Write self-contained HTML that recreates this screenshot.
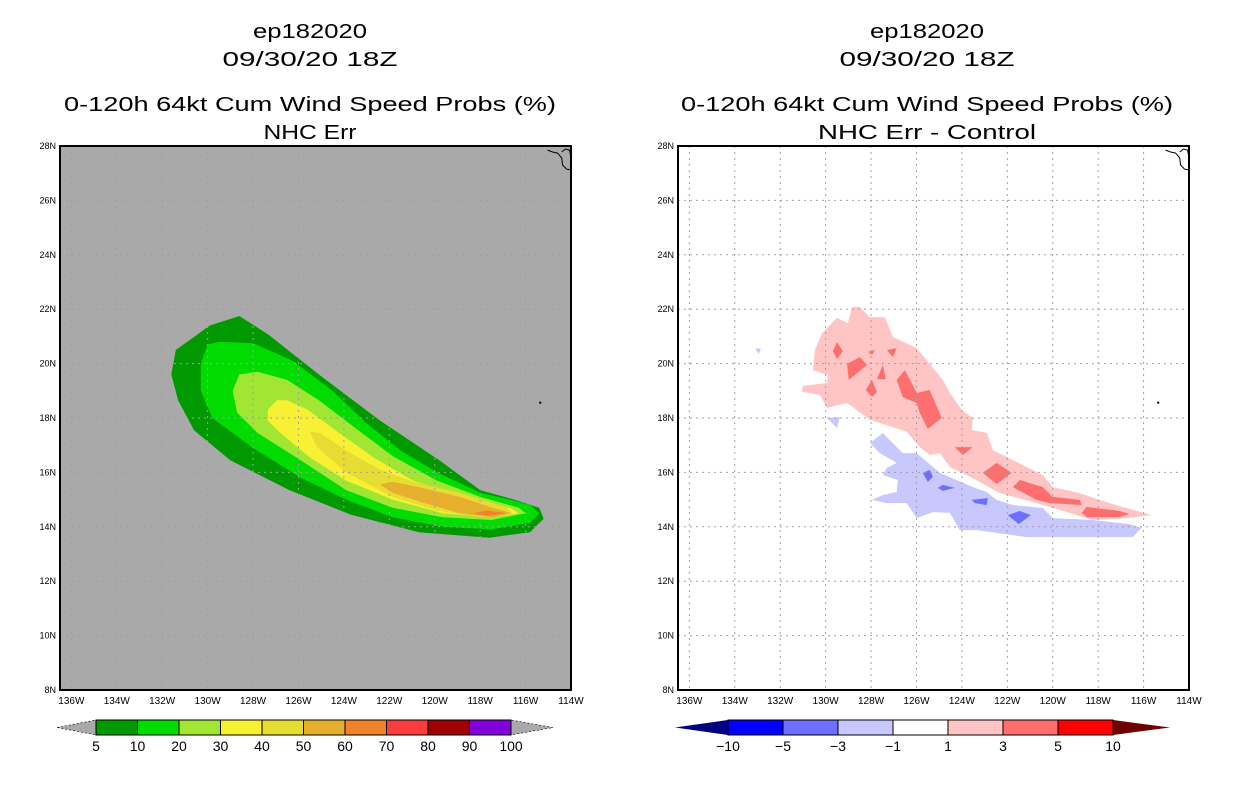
<!DOCTYPE html>
<html><head><meta charset="utf-8"><style>
body{margin:0;background:#fff;width:1236px;height:800px;overflow:hidden;font-family:"Liberation Sans",sans-serif}
svg{position:absolute;left:0;top:0}
</style></head><body>
<svg id="c" width="1236" height="800" xmlns="http://www.w3.org/2000/svg"></svg>
<script>
// ---- data ----
const lonTicks=[136,134,132,130,128,126,124,122,120,118,116,114];
const latTicks=[28,26,24,22,20,18,16,14,12,10,8];
const leftLevels=["5","10","20","30","40","50","60","70","80","90","100"];
const leftColors=["#009a00","#00dc00","#a0e632","#f8f032","#e6dc32","#e6af2d","#f08228","#fa3c3c","#a00000","#8200dc"];
const rightLevels=["-10","-5","-3","-1","1","3","5","10"];
const rightColors=["#0000ff","#6e6eff","#c8c8ff","#ffffff","#ffc5c5","#ff6e6e","#ff0000"];
const p5=[[131.4,20.5],[129.9,21.4],[128.6,21.75],[127.3,21.05],[125.1,19.6],[122.4,17.9],[119.8,16.45],[118.0,15.35],[116.5,15.0],[115.4,14.7],[115.2,14.3],[115.8,13.8],[117.6,13.6],[120.7,13.8],[123.7,14.45],[126.4,15.35],[129.0,16.45],[130.6,17.55],[131.3,18.65],[131.6,19.6]];
const p10=[[130.3,20.0],[130.0,20.7],[129.5,20.8],[128.0,20.75],[126.25,20.1],[124.5,19.0],[123.0,17.8],[121.5,16.8],[119.9,16.0],[118.0,15.25],[116.7,15.0],[115.8,14.8],[115.4,14.5],[115.8,14.15],[117.5,13.9],[119.65,14.0],[121.85,14.35],[123.9,15.0],[125.9,15.8],[128.0,16.9],[129.8,18.0],[130.3,19.0]];
const p20=[[128.9,19.0],[128.6,19.6],[127.8,19.7],[126.5,19.4],[125.1,18.65],[123.6,17.7],[121.85,16.6],[119.9,15.7],[118.0,15.1],[116.3,14.7],[116.0,14.5],[117.5,14.25],[119.65,14.35],[121.85,14.7],[123.9,15.35],[125.9,16.45],[127.8,17.45],[128.7,18.2]];
const p30=[[127.35,18.3],[126.95,18.65],[126.5,18.65],[125.6,18.3],[124.2,17.45],[122.7,16.55],[120.95,15.7],[118.9,15.1],[116.7,14.7],[116.3,14.5],[117.5,14.35],[119.65,14.5],[121.85,15.0],[123.9,15.7],[125.5,16.55],[126.8,17.45],[127.35,17.9]];
const p40=[[125.5,17.5],[125.05,17.45],[123.9,16.8],[122.4,16.1],[120.95,15.65],[118.9,15.25],[116.8,14.7],[116.6,14.5],[118.0,14.35],[119.9,14.6],[121.85,15.1],[123.9,16.0],[125.2,16.95]];
const p50=[[122.4,15.55],[121.85,15.65],[120.65,15.45],[118.9,15.1],[117.45,14.7],[116.6,14.5],[117.45,14.35],[118.9,14.5],[120.35,14.85],[121.85,15.25]];
const p60=[[118.3,14.5],[117.7,14.6],[116.8,14.5],[117.7,14.4]];
const pinkMain=[[130.56,19.76],[130.47,20.5],[130.16,21.12],[129.5,21.68],[129.02,21.49],[128.84,22.08],[128.5,22.08],[128.05,21.71],[127.39,21.71],[127.04,20.98],[125.99,20.57],[124.84,19.4],[124.53,18.92],[124.0,18.29],[123.52,18.0],[123.57,17.56],[122.9,17.45],[122.64,16.82],[122.03,16.57],[120.44,15.9],[120.0,15.46],[118.81,15.24],[117.5,14.87],[115.65,14.43],[116.75,14.32],[118.24,14.25],[119.7,14.62],[120.88,14.91],[122.33,15.24],[123.52,15.79],[124.53,16.2],[124.97,16.71],[125.41,16.64],[125.85,16.93],[126.43,17.49],[127.04,17.67],[128.05,17.93],[129.06,18.55],[129.94,18.37],[130.25,18.85],[131.04,18.96],[131.0,19.18],[129.94,19.29],[129.9,19.58]];
const blueMain=[[128.05,17.08],[127.48,17.45],[126.87,16.93],[126.6,16.71],[125.99,16.71],[124.97,15.98],[123.52,15.46],[122.91,15.28],[122.47,14.99],[121.76,14.8],[120.44,14.69],[120.0,14.32],[118.24,14.25],[116.61,14.1],[116.09,13.96],[116.48,13.62],[118.95,13.62],[121.15,13.62],[123.35,13.88],[124.09,13.88],[124.53,14.51],[125.28,14.54],[125.99,14.32],[126.43,14.87],[127.31,14.87],[127.97,14.99],[127.48,15.17],[126.87,15.28],[126.82,15.72],[127.48,15.9],[127.31,16.16],[126.87,16.35],[127.61,16.71]];
const blueSmall=[[[129.94,18.0],[129.37,18.04],[129.5,17.63]],[[133.1,20.55],[132.85,20.55],[132.95,20.35]]];
const redPatches=[
[[129.68,20.46],[129.5,20.79],[129.24,20.46],[129.5,20.17]],
[[129.06,19.99],[128.49,20.24],[128.18,19.95],[128.98,19.4]],
[[127.74,19.43],[127.48,19.95],[127.35,19.43]],
[[128.23,19.03],[127.96,19.4],[127.74,18.96],[127.96,18.77]],
[[126.87,19.4],[126.51,19.76],[125.99,18.92],[125.42,19.03],[124.89,18.0],[125.5,17.6],[125.85,18.18],[125.99,18.55],[126.6,18.77]],
[[124.31,16.93],[123.52,16.93],[123.96,16.64]],
[[123.08,15.98],[122.47,16.35],[121.81,15.98],[122.47,15.57]],
[[121.76,15.46],[121.45,15.72],[120.44,15.46],[120.0,15.1],[118.81,14.99],[118.73,14.8],[120.13,14.87],[120.71,14.99]],
[[118.73,14.51],[118.5,14.73],[117.05,14.58],[116.61,14.47],[117.05,14.36],[118.5,14.36]],
[[128.14,20.43],[127.83,20.5],[127.96,20.32]],
[[127.3,20.5],[126.87,20.57],[127.04,20.24]]];
const darkBluePatches=[
[[125.72,15.98],[125.41,16.09],[125.28,15.83],[125.5,15.65]],
[[125.06,15.43],[124.84,15.54],[124.31,15.43],[124.84,15.32]],
[[123.57,14.99],[122.86,15.06],[122.91,14.8],[123.43,14.87]],
[[121.98,14.43],[121.45,14.58],[120.97,14.43],[121.5,14.1]]];
const coast1=[[115.03,27.85],[114.81,27.78],[114.59,27.74],[114.41,27.56],[114.37,27.3],[114.2,27.15],[114.02,27.12]];
const coast2=[[114.41,27.78],[114.24,27.89],[114.06,27.85],[114.02,27.67]];
const island=[115.4,18.6];

// ---- drawing ----
const S=document.getElementById('c');const NS='http://www.w3.org/2000/svg';
function mk(t,a,p){const e=document.createElementNS(NS,t);for(const k in a)e.setAttribute(k,a[k]);(p||S).appendChild(e);return e;}
const Y0=146,Y1=690,W=511;
function xs(x0){return lon=>x0+(136.5-lon)*(W/22.5);}
function ys(lat){return Y0+(28-lat)*((Y1-Y0)/20);}
function pts(arr,X){return arr.map(p=>X(p[0]).toFixed(1)+','+ys(p[1]).toFixed(1)).join(' ');}
function text(x,y,s,size,anchor,name,len){const a={x:x,y:y,'font-size':size,'text-anchor':anchor||'middle','font-family':'Liberation Sans, sans-serif',fill:'#000'};if(len){a.textLength=len;a.lengthAdjust='spacingAndGlyphs';}const t=mk('text',a);t.textContent=s;return t;}

function panel(x0,bg,cx,title4,len4,pname){
  const X=xs(x0);
  const g=mk('g',{});
  
  
  text(cx,38,'ep182020',20,'middle','storm-id',114);
  text(cx,66,'09/30/20 18Z',20,'middle','date-title',175);
  text(cx,111,'0-120h 64kt Cum Wind Speed Probs (%)',20,'middle','main-title',492);
  text(cx,139,title4,20,'middle','sub-title',len4);
  const r=mk('rect',{x:x0,y:Y0,width:W,height:Y1-Y0,fill:bg},g);
  
  
  return {X,g};
}
function poly(arr,X,col,g,name){const e=mk('polygon',{points:pts(arr,X),fill:col},g);}
function frame(x0,X,g){
  for(const lon of lonTicks){const x=X(lon);if(x>x0+1&&x<x0+W-1){const l=mk('line',{x1:x,y1:Y0,x2:x,y2:Y1,stroke:'#a0a0a0','stroke-dasharray':'2,4'},g);}
    text(x,704,lon+'W',10,'middle','lon-tick-label');}
  for(const lat of latTicks){const y=ys(lat);if(y>Y0+1&&y<Y1-1){const l=mk('line',{x1:x0,y1:y,x2:x0+W,y2:y,stroke:'#a0a0a0','stroke-dasharray':'2,4'},g);}
    text(x0-4,y+3,lat+'N',9,'end','lat-tick-label');}
  const c1=mk('polyline',{points:pts(coast1,X),fill:'none',stroke:'#000','stroke-width':1},g);
  const c2=mk('polyline',{points:pts(coast2,X),fill:'none',stroke:'#000','stroke-width':1},g);
  const d=mk('rect',{x:X(island[0]),y:ys(island[1]),width:2,height:2,fill:'#000'},g);
  const f=mk('rect',{x:x0,y:Y0,width:W,height:Y1-Y0,fill:'none',stroke:'#000','stroke-width':2},g);
}
function colorbar(bx0,bx1,tipL,tipR,colors,labels,lcol,rcol,dashed,name){
  const g=mk('g',{});
  const yT=720,yB=735,ym=727.5,bw=(bx1-bx0)/colors.length;
  const l=mk('polygon',{points:`${tipL},${ym} ${bx0},${yT} ${bx0},${yB}`,fill:lcol,stroke:dashed?'#000':'none','stroke-dasharray':'2,2','stroke-width':0.6},g);
  const r=mk('polygon',{points:`${tipR},${ym} ${bx1},${yT} ${bx1},${yB}`,fill:rcol,stroke:dashed?'#000':'none','stroke-dasharray':'2,2','stroke-width':0.6},g);
  colors.forEach((c,i)=>{const b=mk('rect',{x:bx0+i*bw,y:yT,width:bw,height:yB-yT,fill:c,stroke:'#000','stroke-width':1},g);});
  labels.forEach((s,i)=>{text(bx0+i*bw,751,s.replace('-','\u2212'),14,'middle','colorbar-label');});
}
// left
(function(){const {X,g}=panel(60,'#a9a9a9',310,'NHC Err',93,'left-panel');
 [p5,p10,p20,p30,p40,p50,p60].forEach((p,i)=>poly(p,X,leftColors[i],g,'prob-contour-'+leftLevels[i]));
 frame(60,X,g);})();
// right
(function(){const {X,g}=panel(678,'#ffffff',927,'NHC Err - Control',218,'right-panel');
 poly(pinkMain,X,rightColors[4],g,'diff-contour-pos1');
 poly(blueMain,X,rightColors[2],g,'diff-contour-neg1');
 blueSmall.forEach(p=>poly(p,X,rightColors[2],g,'diff-contour-neg1'));
 redPatches.forEach(p=>poly(p,X,rightColors[5],g,'diff-contour-pos3'));
 darkBluePatches.forEach(p=>poly(p,X,rightColors[1],g,'diff-contour-neg3'));
 frame(678,X,g);})();
colorbar(96,511,57,553,leftColors,leftLevels,'#a9a9a9','#a9a9a9',true,'left-colorbar');
colorbar(728,1113,675,1170,rightColors,rightLevels,'#000080','#6e0000',false,'right-colorbar');
</script>
</body></html>
